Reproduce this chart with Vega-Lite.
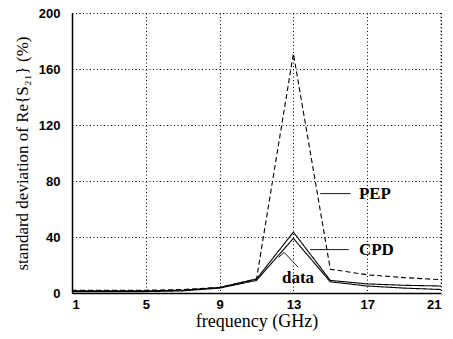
{
  "$schema": "https://vega.github.io/schema/vega-lite/v6.json",
  "width": 369,
  "height": 280,
  "autosize": "none",
  "padding": {"left": 72, "top": 13, "right": 12, "bottom": 46},
  "background": "white",
  "config": {
    "view": {"stroke": null},
    "axis": {
      "grid": true,
      "gridColor": "#000000",
      "gridDash": [1, 2.5],
      "gridOpacity": 1,
      "gridWidth": 1,
      "ticks": false,
      "domainColor": "#000000",
      "domainWidth": 1.5,
      "labelFont": "Liberation Sans",
      "labelFontWeight": "bold",
      "labelFontSize": 13,
      "labelColor": "#000000",
      "titleFont": "Liberation Serif",
      "titleFontWeight": "normal",
      "titleColor": "#000000"
    }
  },
  "datasets": {
    "curves": [
      {"freq": 1, "value": 2, "series": "PEP"},
      {"freq": 3, "value": 2, "series": "PEP"},
      {"freq": 5, "value": 2, "series": "PEP"},
      {"freq": 7, "value": 2.5, "series": "PEP"},
      {"freq": 9, "value": 4, "series": "PEP"},
      {"freq": 11, "value": 10, "series": "PEP"},
      {"freq": 13, "value": 171, "series": "PEP"},
      {"freq": 15, "value": 17, "series": "PEP"},
      {"freq": 17, "value": 13, "series": "PEP"},
      {"freq": 19, "value": 11, "series": "PEP"},
      {"freq": 21, "value": 9.5, "series": "PEP"},
      {"freq": 1, "value": 1.5, "series": "CPD"},
      {"freq": 3, "value": 1.5, "series": "CPD"},
      {"freq": 5, "value": 1.5, "series": "CPD"},
      {"freq": 7, "value": 2, "series": "CPD"},
      {"freq": 9, "value": 4, "series": "CPD"},
      {"freq": 11, "value": 10, "series": "CPD"},
      {"freq": 13, "value": 43.5, "series": "CPD"},
      {"freq": 15, "value": 9, "series": "CPD"},
      {"freq": 17, "value": 6.5, "series": "CPD"},
      {"freq": 19, "value": 5.5, "series": "CPD"},
      {"freq": 21, "value": 5, "series": "CPD"},
      {"freq": 1, "value": 1, "series": "data"},
      {"freq": 3, "value": 1, "series": "data"},
      {"freq": 5, "value": 1, "series": "data"},
      {"freq": 7, "value": 1.5, "series": "data"},
      {"freq": 9, "value": 3.5, "series": "data"},
      {"freq": 11, "value": 9, "series": "data"},
      {"freq": 13, "value": 39, "series": "data"},
      {"freq": 15, "value": 8, "series": "data"},
      {"freq": 17, "value": 5, "series": "data"},
      {"freq": 19, "value": 3.5, "series": "data"},
      {"freq": 21, "value": 2.5, "series": "data"}
    ],
    "leaders": [
      {"seg": "PEP", "freq": 14.45, "value": 71},
      {"seg": "PEP", "freq": 16.1, "value": 71},
      {"seg": "CPD", "freq": 13.9, "value": 31},
      {"seg": "CPD", "freq": 16.0, "value": 31},
      {"seg": "data", "freq": 12.2, "value": 25.5},
      {"seg": "data", "freq": 12.5, "value": 29},
      {"seg": "data", "freq": 13.25, "value": 18.5}
    ],
    "labels": [
      {"label": "PEP", "freq": 16.55, "value": 71, "anchor": "left"},
      {"label": "CPD", "freq": 16.55, "value": 31, "anchor": "left"},
      {"label": "data", "freq": 13.25, "value": 11, "anchor": "center"}
    ]
  },
  "layer": [
    {
      "data": {"name": "curves"},
      "mark": {"type": "line", "color": "#000000", "strokeWidth": 1.1},
      "encoding": {
        "x": {
          "field": "freq",
          "type": "quantitative",
          "scale": {"domain": [1, 21], "nice": false},
          "axis": {"values": [1, 5, 9, 13, 17, 21], "title": "frequency (GHz)", "titleFontSize": 18, "labelPadding": 5, "titlePadding": 1}
        },
        "y": {
          "field": "value",
          "type": "quantitative",
          "scale": {"domain": [0, 200], "nice": false},
          "axis": {"values": [0, 40, 80, 120, 160, 200], "title": "standard deviation of Re{S₂₁} (%)", "titleFontSize": 17, "labelPadding": 12, "titlePadding": 7}
        },
        "strokeDash": {
          "field": "series",
          "type": "nominal",
          "scale": {"domain": ["PEP", "CPD", "data"], "range": [[5, 3], [1, 0], [1, 0]]},
          "legend": null
        },
        "detail": {"field": "series"}
      }
    },
    {
      "data": {"name": "leaders"},
      "mark": {"type": "line", "color": "#000000", "strokeWidth": 0.9},
      "encoding": {
        "x": {"field": "freq", "type": "quantitative"},
        "y": {"field": "value", "type": "quantitative"},
        "detail": {"field": "seg"}
      }
    },
    {
      "data": {"name": "labels"},
      "transform": [{"filter": "datum.anchor == 'left'"}],
      "mark": {"type": "text", "font": "Liberation Serif", "fontSize": 17, "fontWeight": "bold", "align": "left", "baseline": "middle", "color": "#000000"},
      "encoding": {
        "x": {"field": "freq", "type": "quantitative"},
        "y": {"field": "value", "type": "quantitative"},
        "text": {"field": "label"}
      }
    },
    {
      "data": {"name": "labels"},
      "transform": [{"filter": "datum.anchor == 'center'"}],
      "mark": {"type": "text", "font": "Liberation Serif", "fontSize": 17, "fontWeight": "bold", "align": "center", "baseline": "middle", "color": "#000000"},
      "encoding": {
        "x": {"field": "freq", "type": "quantitative"},
        "y": {"field": "value", "type": "quantitative"},
        "text": {"field": "label"}
      }
    },
    {
      "data": {"values": [{"x": 21}]},
      "mark": {"type": "rule", "color": "#000000", "strokeDash": [1, 2.5]},
      "encoding": {"x": {"field": "x", "type": "quantitative"}}
    }
  ]
}
